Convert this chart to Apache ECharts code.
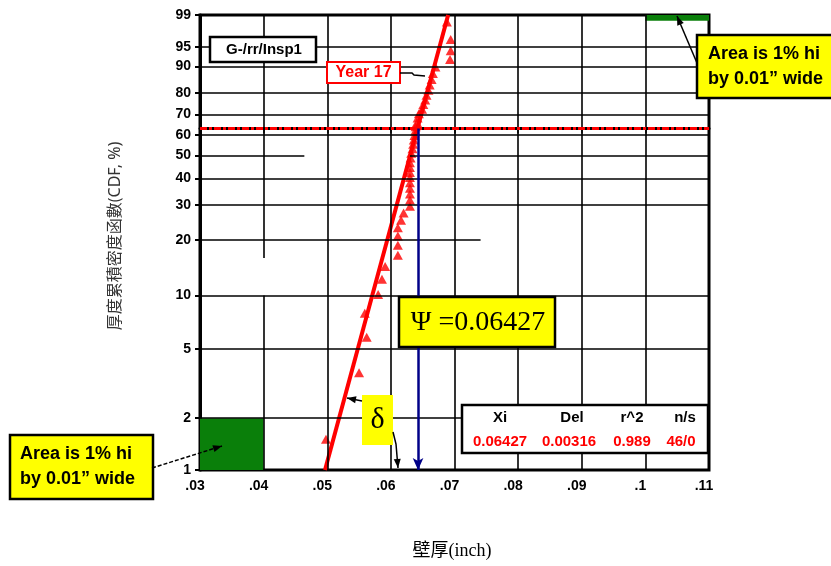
<!DOCTYPE html>
<html><head><meta charset="utf-8">
<script src="https://cdn.jsdelivr.net/npm/echarts@6/dist/echarts.min.js"></script>
<style>html,body{margin:0;padding:0;background:#fff}#c{width:831px;height:566px}</style>
</head><body><div id="c"></div>
<script>
// ---- data ----
const yTickPct = [1, 2, 5, 10, 20, 30, 40, 50, 60, 70, 80, 90, 95, 99];
const xTickLabels = ['.03', '.04', '.05', '.06', '.07', '.08', '.09', '.1', '.11'];
const xTickValues = [0.03, 0.04, 0.05, 0.06, 0.07, 0.08, 0.09, 0.10, 0.11];
const thicknessX = [0.0498, 0.0550, 0.0562, 0.0559, 0.0580, 0.0586, 0.0591, 0.0611, 0.0611, 0.0611,
  0.0611, 0.0616, 0.0620, 0.0630, 0.0630, 0.0630, 0.0630, 0.0630, 0.0630, 0.0630,
  0.0630, 0.0630, 0.0631, 0.0632, 0.0634, 0.0635, 0.0636, 0.0637, 0.0638, 0.0639,
  0.0641, 0.0642, 0.0644, 0.0649, 0.0651, 0.0654, 0.0656, 0.0659, 0.0661, 0.0664,
  0.0666, 0.0670, 0.0693, 0.0694, 0.0694, 0.0688];
const cdfPct = [1.51, 3.66, 5.82, 7.97, 10.13, 12.28, 14.44, 16.59, 18.75, 20.91,
  23.06, 25.22, 27.37, 29.53, 31.68, 33.84, 36.00, 38.15, 40.30, 42.46,
  44.61, 46.77, 48.92, 51.08, 53.23, 55.39, 57.54, 59.70, 61.85, 64.01,
  66.16, 68.32, 70.47, 72.63, 74.78, 76.94, 79.09, 81.25, 83.41, 85.56,
  87.72, 89.87, 92.03, 94.18, 96.34, 98.49];
const fitLineX = [0.04965, 0.06900];
const fitLinePct = [1, 99];
const xiValue = 0.06427;
const charPct = 63.21;
const areaLow = { x: [0.03, 0.04], pct: [1, 2] };
const areaHigh = { x: [0.10, 0.11], pct: [98.6, 99] };
const tableHeaders = ['Xi', 'Del', 'r^2', 'n/s'];
const tableValues = ['0.06427', '0.00316', '0.989', '46/0'];

// ---- probability scale (smallest extreme value) ----
const g = p => Math.log(-Math.log(1 - p / 100));
const yMin = g(1), yMax = g(99);

// gridline segments
const hGrid = [];
yTickPct.slice(1, -1).forEach(p => {
  let segs = [[0.03, 0.11]];
  if (p === 50) segs = [[0.03, 0.0464], [0.0630, 0.11]];
  if (p === 20) segs = [[0.03, 0.0741]];
  segs.forEach(s => hGrid.push([{ coord: [s[0], g(p)] }, { coord: [s[1], g(p)] }]));
});
const vGrid = [];
xTickValues.slice(1, -1).forEach(x => {
  let segs = [[1, 99]];
  if (Math.abs(x - 0.04) < 1e-9) segs = [[16, 99], [1, 10]];
  segs.forEach(s => vGrid.push([{ coord: [x, g(s[0])] }, { coord: [x, g(s[1])] }]));
});

const scatterData = thicknessX.map((x, i) => [x, g(cdfPct[i])]);
const fitData = fitLineX.map((x, i) => [x, g(fitLinePct[i])]);

function arrowEls(pts, color, width, dash) {
  const [x1, y1] = pts[pts.length - 2], [x2, y2] = pts[pts.length - 1];
  const a = Math.atan2(y2 - y1, x2 - x1), L = 9, W = 3.5;
  const bx = x2 - L * Math.cos(a), by = y2 - L * Math.sin(a);
  return [
    { type: 'polyline', z: 100, shape: { points: pts }, style: { stroke: color, lineWidth: width, lineDash: dash || null, fill: null } },
    { type: 'polygon', z: 100, shape: { points: [[x2, y2], [bx + W * Math.sin(a), by - W * Math.cos(a)], [bx - W * Math.sin(a), by + W * Math.cos(a)]] }, style: { fill: color } }
  ];
}
function txt(text, x, y, font, fill, align, extra) {
  const el = { type: 'text', z: 101, x: x, y: y,
    style: { text: text, font: font, fill: fill, textAlign: align || 'center', textVerticalAlign: 'middle', align: align || 'center', verticalAlign: 'middle' } };
  if (extra && extra.lineHeight) { el.style.lineHeight = extra.lineHeight; }
  if (extra && extra.rotation) { el.rotation = extra.rotation; }
  return el;
}
function box(x, y, w, h, fill, stroke, lw) {
  return { type: 'rect', z: 100, shape: { x: x, y: y, width: w, height: h }, style: { fill: fill, stroke: stroke, lineWidth: lw } };
}

const bold = s => 'bold ' + s + 'px "Liberation Sans", Arial, sans-serif';
const serif = s => s + 'px "Liberation Serif", "Times New Roman", serif';
const areaText = 'Area is 1% hi\nby 0.01” wide';

const graphics = [].concat(
  [box(210, 37, 106, 25, '#fff', '#000', 2.5), txt('G-/rr/Insp1', 264, 50, bold(15), '#000')],
  [box(327, 62, 73, 21, '#fff', '#ff0000', 2), txt('Year 17', 363.5, 73, bold(16), '#ff0000')],
  [{ type: 'polyline', z: 100, shape: { points: [[400, 73], [412, 73], [414, 75], [425, 76]] }, style: { stroke: '#000', lineWidth: 1.5, fill: null } }],
  [box(399, 297, 156, 50, '#ffff00', '#000', 2.5), txt('Ψ =0.06427', 478, 323, serif(28), '#000')],
  [box(362, 395, 31, 50, '#ffff00', null, 0), txt('δ', 377.5, 420, serif(30), '#000')],
  arrowEls([[362, 401], [347, 398]], '#000', 1.5),
  arrowEls([[393, 432], [396, 444], [398, 468]], '#000', 1.5),
  [box(462, 405, 246, 48, '#fff', '#000', 2.5)],
  tableHeaders.map((t, i) => txt(t, [500, 572, 632, 685][i], 418, bold(15), '#000')),
  tableValues.map((t, i) => txt(t, [500, 569, 632, 681][i], 442, bold(15), '#ff0000')),
  [box(10, 435, 143, 64, '#ffff00', '#000', 2.5), txt(areaText, 20, 467, bold(18), '#000', 'left', { lineHeight: 25 })],
  arrowEls([[152, 468], [222, 446]], '#000', 1.5, [4, 2]),
  [box(697, 35, 140, 63, '#ffff00', '#000', 2.5), txt(areaText, 708, 67, bold(18), '#000', 'left', { lineHeight: 25 })],
  arrowEls([[697, 63], [677, 16]], '#000', 1.5),
  [txt('厚度累積密度函數(CDF, %)', 115, 236, '16px "Noto Sans", "Noto Sans CJK TC", sans-serif', '#333', 'center', { rotation: Math.PI / 2 })],
  [txt('壁厚(inch)', 452, 551, '18px "Liberation Serif", "Noto Sans CJK TC", serif', '#000')]
);

const chart = echarts.init(document.getElementById('c'));
chart.setOption({
  backgroundColor: '#fff',
  animation: false,
  grid: { left: 200, top: 15, width: 509, height: 455, show: true, borderColor: '#000', borderWidth: 3, backgroundColor: 'transparent' },
  xAxis: {
    type: 'value', min: 0.03, max: 0.11, interval: 0.01,
    axisLine: { show: true, lineStyle: { color: '#000', width: 3 } },
    axisTick: { show: true, length: 5, lineStyle: { color: '#000', width: 1.5 } },
    splitLine: { show: false },
    axisLabel: { margin: 9, padding: [0, 10, 0, 0], color: '#000', fontWeight: 'bold', fontSize: 14, fontFamily: '"Liberation Sans", Arial, sans-serif',
      formatter: v => { const i = xTickValues.findIndex(t => Math.abs(t - v) < 1e-6); return i >= 0 ? xTickLabels[i] : ''; } }
  },
  yAxis: {
    type: 'value', min: yMin, max: yMax,
    axisLine: { show: true, lineStyle: { color: '#000', width: 3 } },
    axisTick: { show: true, length: 5, customValues: yTickPct.map(g), lineStyle: { color: '#000', width: 2 } },
    splitLine: { show: false },
    axisLabel: { margin: 9, color: '#000', fontWeight: 'bold', fontSize: 14, fontFamily: '"Liberation Sans", Arial, sans-serif',
      customValues: yTickPct.map(g),
      formatter: v => { const i = yTickPct.findIndex(t => Math.abs(g(t) - v) < 1e-6); return i >= 0 ? String(yTickPct[i]) : ''; } }
  },
  graphic: graphics,
  series: [
    { type: 'scatter', data: [], z: 1, silent: true,
      markLine: { silent: true, symbol: ['none', 'none'], label: { show: false }, lineStyle: { color: '#000', width: 1.6, type: 'solid' }, data: hGrid.concat(vGrid) } },
    { type: 'scatter', data: [], z: 2, silent: true,
      markArea: { silent: true, itemStyle: { color: '#0a7f0a', opacity: 1 }, label: { show: false },
        data: [
          [{ coord: [areaLow.x[0], g(areaLow.pct[0])] }, { coord: [areaLow.x[1], g(areaLow.pct[1])] }],
          [{ coord: [areaHigh.x[0], g(areaHigh.pct[0])] }, { coord: [areaHigh.x[1], g(areaHigh.pct[1])] }]
        ] },
      markLine: { silent: true, symbol: ['none', 'none'], label: { show: false },
        data: [
          [{ coord: [0.03, g(charPct)], lineStyle: { color: '#ff0000', width: 3, type: [7, 2, 3, 2] } }, { coord: [0.11, g(charPct)] }],
          [{ coord: [xiValue, g(charPct)], symbol: 'none', lineStyle: { color: '#000088', width: 2.5, type: 'solid' } }, { coord: [xiValue, g(1)], symbol: 'arrow', symbolSize: [8, 12] }]
        ] } },
    { type: 'scatter', data: scatterData, z: 3, symbol: 'triangle', symbolSize: [10, 9], itemStyle: { color: '#ff0000' } },
    { type: 'line', data: fitData, z: 4, symbol: 'none', lineStyle: { color: '#ff0000', width: 4 } }
  ]
});
</script>
</body></html>
